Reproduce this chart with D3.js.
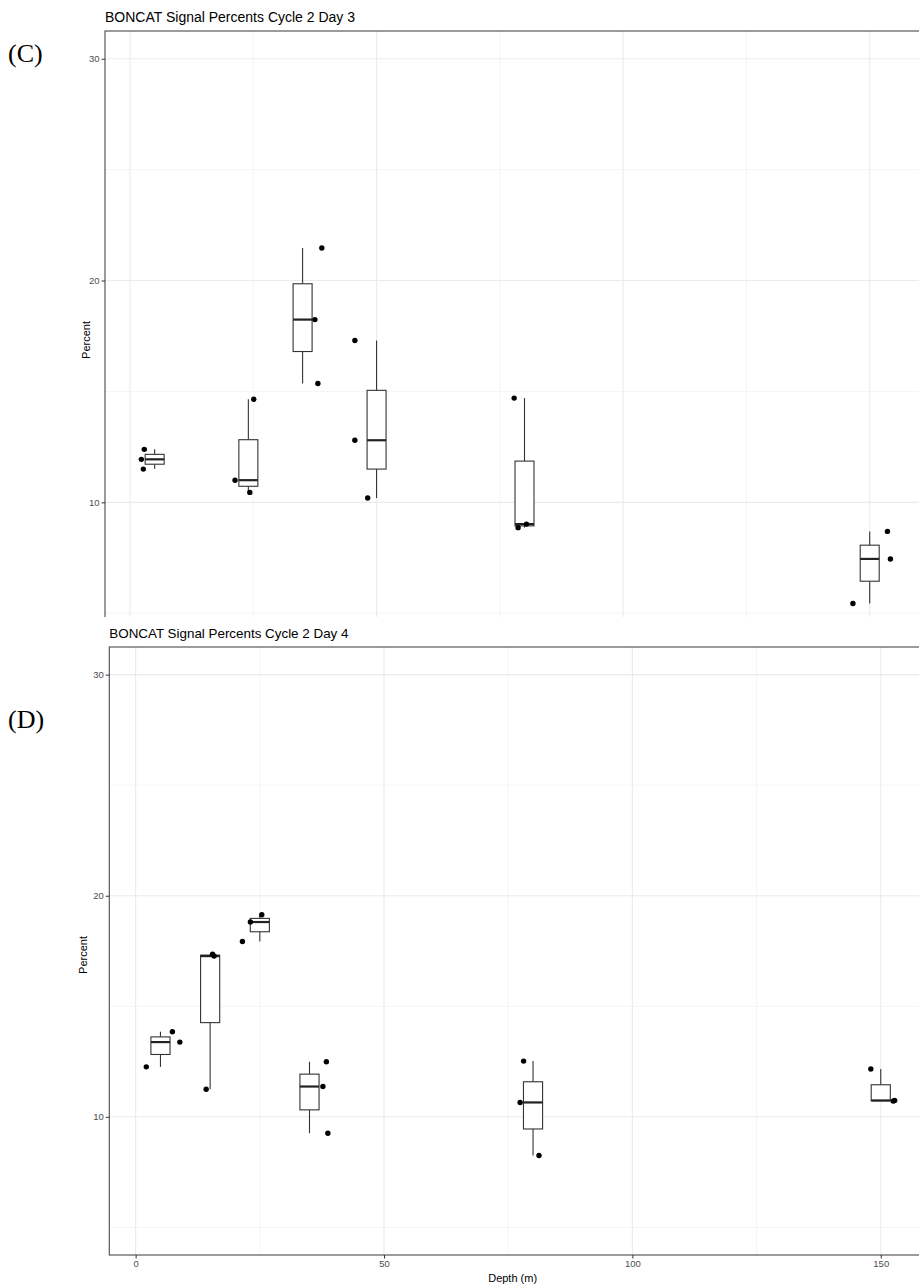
<!DOCTYPE html>
<html>
<head>
<meta charset="utf-8">
<script src="https://cdn.jsdelivr.net/npm/d3@7"></script>
<style>
  html, body { margin: 0; padding: 0; background: #fff; }
  svg { display: block; }
  text { font-family: "Liberation Sans", Arial, sans-serif; }
</style>
</head>
<body>
<svg id="chart" width="919" height="1287"></svg>
<script>
// ---------------- data ----------------
const titleC = "BONCAT Signal Percents Cycle 2 Day 3";
const titleD = "BONCAT Signal Percents Cycle 2 Day 4";
const yTicks = [10, 20, 30];
const yMinorTicks = [5, 15, 25];
const xTicks = [0, 50, 100, 150];
const xMinorTicks = [25, 75, 125];

// Panel C (Cycle 2 Day 3)
const depthsC = [5, 24, 35, 50, 80, 150];
const valuesC = [
  [12.39, 11.94, 11.50],
  [14.65, 11.00, 10.45],
  [21.47, 18.24, 15.36],
  [17.30, 12.80, 10.20],
  [14.70, 9.02, 8.86],
  [8.69, 7.45, 5.44]
];
const jitterDepthC = [
  [2.9, 2.3, 2.7],
  [25.1, 21.3, 24.3],
  [38.9, 37.5, 38.1],
  [45.6, 45.6, 48.2],
  [77.9, 80.4, 78.7],
  [153.6, 154.2, 146.6]
];

// Panel D (Cycle 2 Day 4)
const depthsD = [5, 15, 25, 35, 80, 150];
const valuesD = [
  [13.85, 13.38, 12.26],
  [17.36, 17.27, 11.25],
  [19.14, 18.81, 17.93],
  [12.49, 11.37, 9.26],
  [12.52, 10.65, 8.25],
  [12.16, 10.74, 10.71]
];
const jitterDepthD = [
  [7.4, 8.9, 2.15],
  [15.5, 15.8, 14.2],
  [25.4, 23.1, 21.5],
  [38.4, 37.7, 38.7],
  [78.1, 77.4, 81.2],
  [148.0, 152.8, 152.5]
];

const boxWidth = 3.85; // in depth units

// ---------------- drawing ----------------
const svg = d3.select("#chart");

function boxStats(vals) {
  const s = vals.slice().sort(d3.ascending);
  const q1 = d3.quantile(s, 0.25), med = d3.quantile(s, 0.5), q3 = d3.quantile(s, 0.75);
  const iqr = q3 - q1;
  const lo = d3.min(s.filter(v => v >= q1 - 1.5 * iqr));
  const hi = d3.max(s.filter(v => v <= q3 + 1.5 * iqr));
  return { q1, med, q3, lo, hi };
}

function panel(opt) {
  const g = svg.append("g");
  const x = d3.scaleLinear().domain(opt.xDomain).range([opt.left, opt.right]);
  const y = d3.scaleLinear().domain([3.75, 31.25]).range([opt.bottom, opt.top]);

  const clipId = "clip" + opt.id;
  svg.append("clipPath").attr("id", clipId).append("rect")
    .attr("x", 0).attr("y", opt.top - 2).attr("width", 919).attr("height", opt.clipBottom - opt.top + 2);

  const pg = g.append("g").attr("clip-path", `url(#${clipId})`);

  // gridlines
  pg.selectAll(".ymin").data(yMinorTicks).join("line")
    .attr("x1", opt.left).attr("x2", opt.right)
    .attr("y1", d => y(d)).attr("y2", d => y(d))
    .attr("stroke", "#f3f3f3").attr("stroke-width", 0.8);
  pg.selectAll(".xmin").data(xMinorTicks).join("line")
    .attr("y1", opt.top).attr("y2", opt.bottom)
    .attr("x1", d => x(d)).attr("x2", d => x(d))
    .attr("stroke", "#f3f3f3").attr("stroke-width", 0.8);
  pg.selectAll(".ymaj").data(yTicks).join("line")
    .attr("x1", opt.left).attr("x2", opt.right)
    .attr("y1", d => y(d)).attr("y2", d => y(d))
    .attr("stroke", "#ebebeb").attr("stroke-width", 1.1);
  pg.selectAll(".xmaj").data(xTicks).join("line")
    .attr("y1", opt.top).attr("y2", opt.bottom)
    .attr("x1", d => x(d)).attr("x2", d => x(d))
    .attr("stroke", "#ebebeb").attr("stroke-width", 1.1);

  // boxplots
  opt.depths.forEach((dep, i) => {
    const st = boxStats(opt.values[i]);
    const x0 = x(dep - boxWidth / 2), x1 = x(dep + boxWidth / 2), xc = x(dep);
    const bg = pg.append("g").attr("stroke", "#333").attr("fill", "none");
    bg.append("line").attr("x1", xc).attr("x2", xc).attr("y1", y(st.q3)).attr("y2", y(st.hi)).attr("stroke-width", 1.1);
    bg.append("line").attr("x1", xc).attr("x2", xc).attr("y1", y(st.q1)).attr("y2", y(st.lo)).attr("stroke-width", 1.1);
    bg.append("rect").attr("x", x0).attr("y", y(st.q3))
      .attr("width", x1 - x0).attr("height", Math.max(0, y(st.q1) - y(st.q3)))
      .attr("fill", "#fff").attr("stroke-width", 1.1);
    bg.append("line").attr("x1", x0).attr("x2", x1).attr("y1", y(st.med)).attr("y2", y(st.med))
      .attr("stroke", "#222").attr("stroke-width", 2.2);
  });

  // points
  const pts = [];
  opt.values.forEach((vals, i) => vals.forEach((v, j) => pts.push({ d: opt.jitter[i][j], v })));
  pg.selectAll(".pt").data(pts).join("circle")
    .attr("cx", d => x(d.d)).attr("cy", d => y(d.v)).attr("r", 2.7).attr("fill", "#000");

  // panel border
  pg.append("rect").attr("x", opt.left).attr("y", opt.top)
    .attr("width", opt.right - opt.left).attr("height", opt.bottom - opt.top)
    .attr("fill", "none").attr("stroke", "#4a4a4a").attr("stroke-width", 1.1);

  // y axis
  const ya = g.append("g").attr("transform", `translate(${opt.left},0)`)
    .call(d3.axisLeft(y).tickValues(yTicks).tickSize(3.5).tickPadding(2));
  ya.select(".domain").remove();
  ya.selectAll(".tick line").attr("stroke", "#333");
  ya.selectAll(".tick text").attr("fill", "#4d4d4d").style("font-size", "9.5px")
    .style("font-family", "'Liberation Sans', Arial, sans-serif");

  // y title
  g.append("text").attr("transform", `translate(${opt.yTitleX},${opt.yTitleY}) rotate(-90)`)
    .attr("text-anchor", "middle").style("font-size", "11px").attr("fill", "#000").text("Percent");

  // title
  g.append("text").attr("x", opt.left).attr("y", opt.titleY)
    .style("font-size", opt.titleSize).attr("fill", "#000").text(opt.title);

  // panel letter
  svg.append("text").attr("x", opt.letterX).attr("y", opt.letterY)
    .style("font-family", "'Liberation Serif', 'Times New Roman', serif")
    .style("font-size", "26px").attr("fill", "#000").text(opt.letter);

  if (opt.xAxis) {
    const xa = g.append("g").attr("transform", `translate(0,${opt.bottom})`)
      .call(d3.axisBottom(x).tickValues(xTicks).tickSize(3.5).tickPadding(2));
    xa.select(".domain").remove();
    xa.selectAll(".tick line").attr("stroke", "#333");
    xa.selectAll(".tick text").attr("fill", "#4d4d4d").style("font-size", "9.5px")
      .style("font-family", "'Liberation Sans', Arial, sans-serif");
    g.append("text").attr("x", (opt.left + opt.right) / 2 - 2).attr("y", opt.bottom + 27)
      .attr("text-anchor", "middle").style("font-size", "11px").attr("fill", "#000").text("Depth (m)");
  }
}

panel({
  id: "C", title: titleC, letter: "(C)", titleSize: "14px",
  left: 105, right: 920, top: 31, bottom: 641, clipBottom: 617,
  xDomain: [-5.07, 160.2],
  depths: depthsC, values: valuesC, jitter: jitterDepthC,
  yTitleX: 90, yTitleY: 340, titleY: 22,
  letterX: 8, letterY: 62, xAxis: false
});

panel({
  id: "D", title: titleD, letter: "(D)", titleSize: "13.4px",
  left: 109.3, right: 920, top: 647, bottom: 1255, clipBottom: 1256,
  xDomain: [-5.3, 157.9],
  depths: depthsD, values: valuesD, jitter: jitterDepthD,
  yTitleX: 87, yTitleY: 955, titleY: 638,
  letterX: 8, letterY: 728, xAxis: true
});
</script>
</body>
</html>
